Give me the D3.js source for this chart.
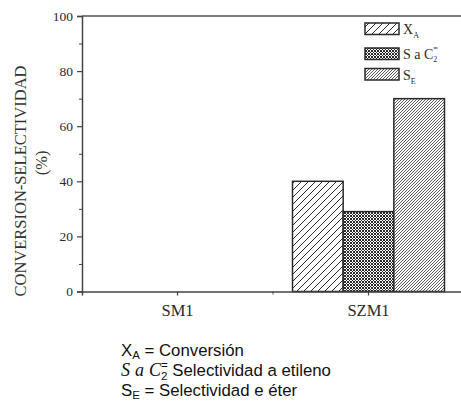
<!DOCTYPE html>
<html><head><meta charset="utf-8">
<script src="https://cdn.jsdelivr.net/npm/d3@7"></script>
<style>
html,body{margin:0;padding:0;background:#fff;overflow:hidden}
svg{display:block}
</style></head>
<body>
<script>
const categories = ["SM1", "SZM1"];
const seriesKeys = ["XA", "SC2", "SE"];
const valuesXA  = [null, 40];
const valuesSC2 = [null, 29];
const valuesSE  = [null, 70];
const yTicks = [0, 20, 40, 60, 80, 100];
const yMinorTicks = [10, 30, 50, 70, 90];

(function(){
const W = 461, H = 402;
const svg = d3.select("body").append("svg").attr("width", W).attr("height", H);
const ink = "#2a2a2a";

const defs = svg.append("defs");
const p1 = defs.append("pattern").attr("id","pXA").attr("patternUnits","userSpaceOnUse")
  .attr("width",7).attr("height",7);
p1.append("rect").attr("width",7).attr("height",7).attr("fill","#fff");
p1.append("path").attr("d","M-1,8 L8,-1 M-2,2 L2,-2 M5,9 L9,5").attr("stroke",ink).attr("stroke-width",1);
const p2 = defs.append("pattern").attr("id","pSC2").attr("patternUnits","userSpaceOnUse")
  .attr("width",3).attr("height",3);
p2.append("rect").attr("width",3).attr("height",3).attr("fill","#fff");
p2.append("path").attr("d","M0,0 L3,3 M3,0 L0,3").attr("stroke","#2a2a2a").attr("stroke-width",1);
const p3 = defs.append("pattern").attr("id","pSE").attr("patternUnits","userSpaceOnUse")
  .attr("width",3).attr("height",3);
p3.append("rect").attr("width",3).attr("height",3).attr("fill","#fff");
p3.append("path").attr("d","M-1,4 L4,-1 M-1,1 L1,-1 M2,4 L4,2").attr("stroke","#333").attr("stroke-width",0.8);
const fills = {XA:"url(#pXA)", SC2:"url(#pSC2)", SE:"url(#pSE)"};

const mLeft = 82, mRight = 464, mTop = 16, mBottom = 291.5;
const x = d3.scaleBand().domain(categories).range([mLeft, mRight]).padding(0);
const xi = d3.scaleBand().domain(seriesKeys).range([-76, 76]).padding(0);
const y = d3.scaleLinear().domain([0, 100]).range([mBottom, mTop]);

const seriesVals = {XA: valuesXA, SC2: valuesSC2, SE: valuesSE};

const g = svg.append("g");
categories.forEach((c, ci) => {
  seriesKeys.forEach(k => {
    const v = seriesVals[k][ci];
    if (v == null) return;
    const cx = x(c) + x.bandwidth()/2;
    g.append("rect")
      .attr("x", cx + xi(k)).attr("width", xi.bandwidth())
      .attr("y", y(v)).attr("height", y(0) - y(v))
      .attr("fill", fills[k]).attr("stroke", ink).attr("stroke-width", 1.5);
  });
});

svg.append("line").attr("x1",mLeft).attr("x2",mRight).attr("y1",mTop).attr("y2",mTop)
  .attr("stroke","#555").attr("stroke-width",1.5);
svg.append("line").attr("x1",mRight).attr("x2",mRight).attr("y1",mTop).attr("y2",mBottom)
  .attr("stroke","#555").attr("stroke-width",1.5);

const yAxis = svg.append("g").attr("transform",`translate(${mLeft},0)`)
  .call(d3.axisLeft(y).tickValues(yTicks).tickSize(5).tickPadding(4).tickFormat(d3.format("d")));
yAxis.select(".domain").attr("stroke","#444").attr("stroke-width",1.5);
yAxis.selectAll(".tick line").attr("stroke","#444").attr("stroke-width",1.2);
yAxis.selectAll("text").attr("font-family","Liberation Serif").attr("font-size",13.5).attr("fill",ink);
const yMinor = svg.append("g").attr("transform",`translate(${mLeft},0)`)
  .call(d3.axisLeft(y).tickValues(yMinorTicks).tickSize(3).tickFormat(""));
yMinor.select(".domain").remove();
yMinor.selectAll(".tick line").attr("stroke","#444").attr("stroke-width",1);

const xAxis = svg.append("g").attr("transform",`translate(0,${mBottom})`)
  .call(d3.axisBottom(x).tickSize(4).tickPadding(9));
xAxis.select(".domain").attr("stroke","#444").attr("stroke-width",1.5);
xAxis.selectAll(".tick line").attr("stroke","#444").attr("stroke-width",1.2);
xAxis.selectAll("text").attr("font-family","Liberation Serif").attr("font-size",16.5).attr("fill",ink);
const xMinor = svg.append("g").attr("transform",`translate(0,${mBottom})`);
xMinor.selectAll("line").data(categories.slice(1)).join("line")
  .attr("x1", d => x(d)).attr("x2", d => x(d)).attr("y1",0).attr("y2",3)
  .attr("stroke","#444").attr("stroke-width",1);

svg.append("text").attr("transform","translate(25.5,181) rotate(-90)")
  .attr("text-anchor","middle").attr("font-family","Liberation Serif").attr("font-size",16.5)
  .attr("fill","#333").text("CONVERSION-SELECTIVIDAD");
svg.append("text").attr("transform","translate(47,163) rotate(-90)")
  .attr("text-anchor","middle").attr("font-family","Liberation Serif").attr("font-size",16.5)
  .attr("fill","#333").text("(%)");

const legendRows = [
  {k:"XA", y:23},
  {k:"SC2", y:48},
  {k:"SE", y:68.5}
];
const lg = svg.append("g");
legendRows.forEach(r => {
  lg.append("rect").attr("x",365).attr("y",r.y).attr("width",34).attr("height",11.5)
    .attr("fill",fills[r.k]).attr("stroke",ink).attr("stroke-width",1.5);
});
function legText(yb){ return lg.append("text").attr("x",403).attr("y",yb)
  .attr("font-family","Liberation Serif").attr("font-size",14).attr("fill",ink); }
let t = legText(34);
t.append("tspan").text("X");
t.append("tspan").attr("font-size",8).attr("dy",4).text("A");
t = legText(59);
t.append("tspan").text("S a C");
t.append("tspan").attr("font-size",8).attr("dy",3).text("2");
t.append("tspan").attr("font-size",8).attr("dx",-4).attr("dy",-11).text("=");
t = legText(80);
t.append("tspan").text("S");
t.append("tspan").attr("font-size",8).attr("dy",4).text("E");

const nf = "Liberation Sans";
const fs = 16.8;
const nx = 121;
let n = svg.append("text").attr("x",nx).attr("y",356).attr("font-family",nf).attr("font-size",fs).attr("fill","#111");
n.append("tspan").text("X");
n.append("tspan").attr("font-size",11.5).attr("dy",3).text("A");
n.append("tspan").attr("dy",-3).text(" = Conversión");

n = svg.append("text").attr("x",nx).attr("y",376).attr("font-size",fs).attr("fill","#111");
const mf = "Liberation Serif";
n.append("tspan").attr("font-family",mf).attr("font-style","italic").attr("font-size",18).text("S");
n.append("tspan").attr("font-family",mf).attr("font-style","italic").attr("font-size",18).attr("dx",5).text("a");
n.append("tspan").attr("font-family",mf).attr("font-style","italic").attr("font-size",18).attr("dx",5).text("C");
n.append("tspan").attr("font-family",nf).attr("font-size",11.5).attr("dy",4).text("2");
n.append("tspan").attr("font-family",nf).attr("font-size",11.5).attr("dx",-6.5).attr("dy",-11).text("=");
n.append("tspan").attr("font-family",nf).attr("dy",7).text(" Selectividad a etileno");

n = svg.append("text").attr("x",nx).attr("y",396).attr("font-family",nf).attr("font-size",fs).attr("fill","#111");
n.append("tspan").text("S");
n.append("tspan").attr("font-size",11.5).attr("dy",3).text("E");
n.append("tspan").attr("dy",-3).text(" = Selectividad e éter");
})();
</script>
</body></html>
